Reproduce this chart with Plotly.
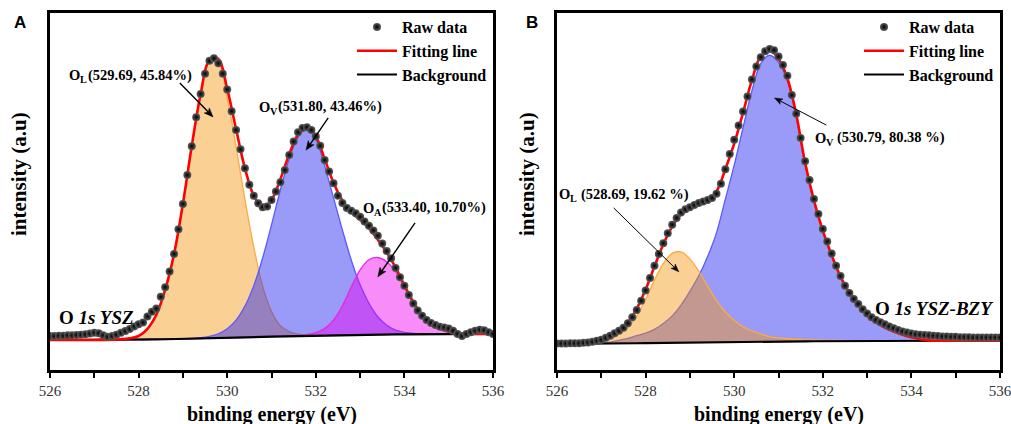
import math
import plotly.graph_objects as go

# ---------------- data ----------------
energy_raw = [526.0, 526.1, 526.2, 526.3, 526.4, 526.5, 526.6, 526.7, 526.8, 526.9,
              527.0, 527.1, 527.2, 527.3, 527.4, 527.5, 527.6, 527.7, 527.8, 527.9,
              528.0, 528.1, 528.2, 528.3, 528.4, 528.5, 528.6, 528.7, 528.8, 528.9,
              529.0, 529.1, 529.2, 529.3, 529.4, 529.5, 529.6, 529.7, 529.8, 529.9,
              530.0, 530.1, 530.2, 530.3, 530.4, 530.5, 530.6, 530.7, 530.8, 530.9,
              531.0, 531.1, 531.2, 531.3, 531.4, 531.5, 531.6, 531.7, 531.8, 531.9,
              532.0, 532.1, 532.2, 532.3, 532.4, 532.5, 532.6, 532.7, 532.8, 532.9,
              533.0, 533.1, 533.2, 533.3, 533.4, 533.5, 533.6, 533.7, 533.8, 533.9,
              534.0, 534.1, 534.2, 534.3, 534.4, 534.5, 534.6, 534.7, 534.8, 534.9,
              535.0, 535.1, 535.2, 535.3, 535.4, 535.5, 535.6, 535.7, 535.8, 535.9,
              536.0]

energy_fit = [526.0, 526.2, 526.4, 526.6, 526.8, 527.0, 527.2, 527.4, 527.6, 527.8,
              528.0, 528.2, 528.4, 528.6, 528.8, 529.0, 529.2, 529.4, 529.6, 529.8,
              530.0, 530.2, 530.4, 530.6, 530.8, 531.0, 531.2, 531.4, 531.6, 531.8,
              532.0, 532.2, 532.4, 532.6, 532.8, 533.0, 533.2, 533.4, 533.6, 533.8,
              534.0, 534.2, 534.4, 534.6, 534.8, 535.0, 535.2, 535.4, 535.6, 535.8,
              536.0]

# Panel A: O 1s YSZ
raw_A = [9.5, 9.5, 9.6, 9.6, 9.7, 9.7, 9.8, 9.9, 10.0, 10.2,
         10.4, 10.3, 9.7, 9.3, 9.5, 9.9, 10.4, 10.9, 11.5, 12.2,
         12.8, 13.3, 15.0, 16.3, 17.2, 20.5, 23.2, 27.6, 32.5, 39.4,
         46.5, 54.6, 62.7, 70.8, 77.3, 83.0, 86.6, 87.3, 85.9, 83.0,
         78.6, 72.5, 67.2, 61.8, 56.5, 51.9, 48.8, 46.7, 45.6, 45.8,
         47.6, 50.0, 52.6, 56.0, 60.2, 64.0, 66.6, 67.8, 68.0, 67.2,
         65.4, 62.8, 58.8, 55.6, 52.3, 48.8, 46.8, 45.4, 44.6, 43.9,
         42.9, 41.6, 40.4, 39.1, 37.6, 35.4, 33.3, 31.3, 28.6, 26.0,
         23.6, 21.0, 18.6, 16.7, 15.2, 14.0, 13.2, 12.6, 12.1, 11.9,
         11.6, 11.0, 10.1, 9.5, 10.1, 10.6, 11.0, 11.3, 11.1, 10.6,
         10.1]

bkg_A = [8.40, 8.40, 8.40, 8.40, 8.40, 8.42, 8.44, 8.46, 8.48, 8.50,
         8.52, 8.55, 8.58, 8.62, 8.66, 8.70, 8.76, 8.82, 8.88, 8.94,
         9.00, 9.07, 9.14, 9.21, 9.28, 9.35, 9.41, 9.47, 9.53, 9.59,
         9.65, 9.69, 9.73, 9.77, 9.81, 9.85, 9.88, 9.91, 9.94, 9.97,
         10.00, 10.02, 10.04, 10.06, 10.08, 10.10, 10.10, 10.10, 10.10, 10.10,
         10.10]

OL_A = [0, 0, 0, 0, 0, 0, 0, 0.05, 0.15, 0.4,
        1.0, 3.0, 6.9, 13.9, 23.8, 37.8, 53.9, 68.2, 77.4, 77.0,
        67.2, 53.5, 38.6, 25.2, 14.2, 7.0, 3.0, 1.3, 0.5, 0.2,
        0.05, 0, 0, 0, 0, 0, 0, 0, 0, 0,
        0, 0, 0, 0, 0, 0, 0, 0, 0, 0,
        0]

OV_A = [0, 0, 0, 0, 0, 0, 0, 0, 0, 0,
        0, 0, 0, 0, 0, 0.03, 0.09, 0.23, 0.55, 1.22,
        2.55, 4.91, 8.76, 14.4, 22.1, 31.3, 41.0, 49.7, 55.8, 58.0,
        55.0, 47.5, 38.5, 29.5, 21.0, 14.0, 8.8, 5.0, 2.6, 1.2,
        0.55, 0.23, 0.09, 0.03, 0, 0, 0, 0, 0, 0,
        0]

OA_A = [0, 0, 0, 0, 0, 0, 0, 0, 0, 0,
        0, 0, 0, 0, 0, 0, 0, 0, 0, 0,
        0, 0, 0, 0, 0, 0, 0, 0, 0.1, 0.3,
        0.8, 1.9, 4.2, 8.2, 13.4, 18.2, 21.0, 21.6, 20.4, 17.6,
        13.2, 8.8, 5.3, 3.0, 1.5, 0.6, 0.2, 0.05, 0, 0,
        0]

# Panel B: O 1s YSZ-BZY
raw_B = [7.4, 7.4, 7.4, 7.5, 7.5, 7.5, 7.6, 7.7, 7.9, 8.2,
         8.5, 9.0, 9.6, 10.3, 11.0, 11.8, 13.1, 14.8, 16.8, 19.4,
         22.3, 25.8, 29.2, 32.5, 35.5, 38.3, 40.7, 42.6, 44.1, 45.0,
         45.6, 46.2, 46.8, 47.2, 47.6, 48.2, 49.4, 52.2, 56.2, 60.5,
         64.5, 68.5, 72.4, 76.6, 81.4, 85.0, 87.6, 89.3, 89.9, 89.6,
         87.8, 85.4, 82.4, 77.0, 71.8, 65.0, 58.5, 53.2, 47.9, 43.7,
         39.5, 36.0, 32.6, 29.2, 26.3, 23.6, 21.6, 19.9, 18.5, 17.0,
         15.8, 14.8, 14.0, 13.4, 12.8, 12.2, 11.7, 11.2, 10.8, 10.5,
         10.2, 10.0, 9.9, 9.8, 9.7, 9.6, 9.5, 9.4, 9.4, 9.3,
         9.3, 9.2, 9.2, 9.2, 9.1, 9.1, 9.1, 9.1, 9.1, 9.1,
         9.1]

bkg_B = [7.30, 7.30, 7.31, 7.32, 7.33, 7.35, 7.38, 7.42, 7.46, 7.50,
         7.54, 7.58, 7.62, 7.66, 7.70, 7.73, 7.76, 7.79, 7.82, 7.85,
         7.88, 7.90, 7.92, 7.94, 7.96, 7.98, 8.00, 8.02, 8.04, 8.06,
         8.08, 8.10, 8.12, 8.14, 8.15, 8.16, 8.17, 8.18, 8.19, 8.20,
         8.20, 8.20, 8.20, 8.20, 8.20, 8.20, 8.20, 8.20, 8.20, 8.20,
         8.20]

OL_B = [0, 0, 0, 0.02, 0.1, 0.4, 1.3, 2.6, 4.4, 7.6,
        12.2, 17.6, 22.2, 25.0, 25.4, 23.4, 19.9, 15.7, 11.6, 8.4,
        6.0, 4.2, 3.0, 2.1, 1.4, 1.0, 0.75, 0.6, 0.45, 0.35,
        0.27, 0.2, 0.15, 0.1, 0.07, 0.05, 0.03, 0.02, 0.01, 0,
        0, 0, 0, 0, 0, 0, 0, 0, 0, 0,
        0]

OV_B = [0, 0, 0, 0.02, 0.08, 0.15, 0.4, 0.9, 1.4, 2.1,
        2.8, 3.8, 5.4, 7.5, 10.5, 14.3, 18.6, 24.0, 30.6, 40.0,
        49.5, 60.0, 70.3, 77.9, 80.2, 78.2, 73.0, 63.0, 49.6, 39.1,
        30.7, 23.9, 17.9, 13.4, 10.2, 7.1, 5.1, 3.7, 2.6, 1.7,
        1.0, 0.4, 0.1, 0, 0, 0, 0, 0, 0, 0,
        0]

x_ticks = [526, 528, 530, 532, 534, 536]

# ---------------- styling ----------------
SERIF = "Liberation Serif, Times New Roman, serif"
ORANGE_FILL = "rgba(245,150,20,0.45)"
ORANGE_LINE = "rgb(255,170,60)"
BLUE_FILL = "rgba(30,30,240,0.45)"
BLUE_LINE = "rgb(90,90,255)"
MAG_FILL = "rgba(240,0,240,0.45)"
MAG_LINE = "rgb(230,40,230)"

X_RANGE = [526, 536]
Y_RANGE = [0, 100]
PANEL_W = 443.0   # px width of each plot area
PANEL_H = 357.0   # px height of each plot area
PXX = PANEL_W / (X_RANGE[1] - X_RANGE[0])
PXY = PANEL_H / (Y_RANGE[1] - Y_RANGE[0])

fig = go.Figure()


def add_component(xa, ya, bkg, comp, fillc, linec, legend):
    fig.add_trace(go.Scatter(x=energy_fit, y=bkg, mode="lines", line=dict(width=0, shape="spline"),
                             showlegend=False, hoverinfo="skip", xaxis=xa, yaxis=ya, legend=legend))
    fig.add_trace(go.Scatter(x=energy_fit, y=[b + c for b, c in zip(bkg, comp)], mode="lines",
                             line=dict(color=linec, width=1.3, shape="spline"),
                             fill="tonexty", fillcolor=fillc, showlegend=False,
                             hoverinfo="skip", xaxis=xa, yaxis=ya, legend=legend))


def add_main(xa, ya, bkg, comps, raw, legend):
    fit = [b + sum(c[i] for c in comps) for i, b in enumerate(bkg)]
    fig.add_trace(go.Scatter(x=energy_fit, y=bkg, mode="lines", name="Background",
                             line=dict(color="black", width=2.2), legend=legend, legendrank=3,
                             xaxis=xa, yaxis=ya))
    fig.add_trace(go.Scatter(x=energy_fit, y=fit, mode="lines", name="Fitting line",
                             line=dict(color="red", width=2.6, shape="spline"), legend=legend,
                             legendrank=2, xaxis=xa, yaxis=ya))
    fig.add_trace(go.Scatter(x=energy_raw, y=raw, mode="markers", name="Raw data",
                             marker=dict(size=8, color="#5e5e5e",
                                         gradient=dict(type="radial", color="#000000"),
                                         line=dict(width=0)),
                             legend=legend, legendrank=1, xaxis=xa, yaxis=ya))


# Panel A
add_component("x", "y", bkg_A, OL_A, ORANGE_FILL, ORANGE_LINE, "legend")
add_component("x", "y", bkg_A, OV_A, BLUE_FILL, BLUE_LINE, "legend")
add_component("x", "y", bkg_A, OA_A, MAG_FILL, MAG_LINE, "legend")
add_main("x", "y", bkg_A, [OL_A, OV_A, OA_A], raw_A, "legend")

# Panel B
add_component("x2", "y2", bkg_B, OV_B, BLUE_FILL, BLUE_LINE, "legend2")
add_component("x2", "y2", bkg_B, OL_B, ORANGE_FILL, ORANGE_LINE, "legend2")
add_main("x2", "y2", bkg_B, [OL_B, OV_B], raw_B, "legend2")


# ---------------- arrows (line + filled head) ----------------
def arrow_shapes(xr, yr, tip, tail, w=1.4, head_len=9.0, head_half=3.6):
    x1, y1 = tip
    x0, y0 = tail
    dxp = (x1 - x0) * PXX
    dyp = (y1 - y0) * PXY
    L = math.hypot(dxp, dyp)
    ux, uy = dxp / L, dyp / L
    bx, by = -ux * head_len, -uy * head_len
    nx, ny = -uy * head_half, ux * head_half
    left = (x1 + (bx + nx) / PXX, y1 + (by + ny) / PXY)
    right = (x1 + (bx - nx) / PXX, y1 + (by - ny) / PXY)
    notch = (x1 + 0.75 * bx / PXX, y1 + 0.75 * by / PXY)
    line = dict(type="line", xref=xr, yref=yr, x0=x0, y0=y0, x1=notch[0], y1=notch[1],
                line=dict(color="black", width=w), layer="above")
    head = dict(type="path", xref=xr, yref=yr, layer="above",
                path=(f"M {x1},{y1} L {left[0]},{left[1]} L {notch[0]},{notch[1]} "
                      f"L {right[0]},{right[1]} Z"),
                fillcolor="black", line=dict(color="black", width=0.5))
    return [line, head]


shapes = []
shapes += arrow_shapes("x", "y", (529.68, 70.9), (528.93, 80.4))
shapes += arrow_shapes("x", "y", (531.78, 61.6), (532.28, 70.6))
shapes += arrow_shapes("x", "y", (533.40, 26.1), (534.24, 41.2))
shapes += arrow_shapes("x2", "y2", (530.91, 76.2), (532.08, 68.6), w=1.0, head_len=8, head_half=3)
shapes += arrow_shapes("x2", "y2", (528.75, 27.5), (527.28, 45.4), w=1.0, head_len=8, head_half=3)

ydom = [54 / 424, 411 / 424]

xaxis_common = dict(range=X_RANGE, tickvals=x_ticks, ticks="outside", ticklen=5, tickwidth=2,
                    tickcolor="black", minor=dict(dtick=1, ticks="outside", ticklen=5, tickwidth=2,
                                                  tickcolor="black", tick0=526),
                    showline=True, linecolor="black", linewidth=2.5, mirror=True,
                    showgrid=False, zeroline=False, automargin=False, ticklabeloverflow="allow",
                    tickfont=dict(family=SERIF, size=15, color="#333333"))
yaxis_common = dict(range=Y_RANGE, showticklabels=False, ticks="", showline=True, linecolor="black",
                    linewidth=2.5, mirror=True, showgrid=False, zeroline=False, automargin=False)

legend_common = dict(font=dict(family=SERIF, size=16, color="black", weight="bold"),
                     bgcolor="rgba(0,0,0,0)", borderwidth=0, xanchor="left", yanchor="top",
                     tracegroupgap=0, traceorder="normal", itemwidth=40)

LBL_SIZE = 14.5
SUB_SIZE = 10.2
ann_font = dict(family=SERIF, size=LBL_SIZE, color="black", weight="bold")
sub_font = dict(family=SERIF, size=SUB_SIZE, color="black", weight="bold")
title_font_x = dict(family=SERIF, size=20, color="black", weight="bold")
title_font_y = dict(family=SERIF, size=21, color="black", weight="bold")

# approximate glyph advance widths (em) of the serif bold face
GLYPH_EM = {"O": 0.778, "L": 0.667, "V": 0.722, "A": 0.722, " ": 0.25}


def peak_label(xr, yr, x, y, sub, rest, space=False):
    """'O' + subscript + rest, written as three adjacent text pieces."""
    o_w = GLYPH_EM["O"] * LBL_SIZE
    s_w = GLYPH_EM[sub] * SUB_SIZE
    gap = GLYPH_EM[" "] * LBL_SIZE if space else 0.5
    common = dict(xref=xr, yref=yr, x=x, y=y, xanchor="left", yanchor="middle", showarrow=False,
                  borderpad=0)
    return [
        dict(text="O", font=ann_font, **common),
        dict(text=sub, font=sub_font, xshift=o_w, yshift=-4.5, **common),
        dict(text=rest, font=ann_font, xshift=o_w + s_w + gap, **common),
    ]


annotations = [
    dict(xref="paper", yref="paper", x=20 / 1011, y=1 - 23 / 424, xanchor="center", yanchor="middle",
         text="A", showarrow=False,
         font=dict(family="Liberation Sans, Arial", size=17, color="black", weight="bold")),
    dict(xref="paper", yref="paper", x=532 / 1011, y=1 - 23 / 424, xanchor="center", yanchor="middle",
         text="B", showarrow=False,
         font=dict(family="Liberation Sans, Arial", size=17, color="black", weight="bold")),
    # axis titles
    dict(xref="paper", yref="paper", x=271.5 / 1011, y=1 - 414 / 424, xanchor="center", yanchor="middle",
         text="binding energy (eV)", showarrow=False, font=title_font_x),
    dict(xref="paper", yref="paper", x=779 / 1011, y=1 - 414 / 424, xanchor="center", yanchor="middle",
         text="binding energy (eV)", showarrow=False, font=title_font_x),
    dict(xref="paper", yref="paper", x=19 / 1011, y=1 - 174 / 424, xanchor="center", yanchor="middle",
         text="intensity (a.u)", textangle=-90, showarrow=False, font=title_font_y),
    dict(xref="paper", yref="paper", x=527 / 1011, y=1 - 174 / 424, xanchor="center", yanchor="middle",
         text="intensity (a.u)", textangle=-90, showarrow=False, font=title_font_y),
    dict(xref="x", yref="y", x=526.16, y=14.6, xanchor="left", showarrow=False,
         text="O <i>1s YSZ</i>", font=dict(family=SERIF, size=19, color="black", weight="bold")),
    dict(xref="x2", yref="y2", x=535.91, y=17.1, xanchor="right", showarrow=False,
         text="O <i>1s YSZ-BZY</i>", font=dict(family=SERIF, size=19, color="black", weight="bold")),
]
annotations += peak_label("x", "y", 526.41, 82.6, "L", "(529.69, 45.84%)")
annotations += peak_label("x", "y", 530.70, 73.7, "V", "(531.80, 43.46%)")
annotations += peak_label("x", "y", 533.04, 45.4, "A", "(533.40, 10.70%)")
annotations += peak_label("x2", "y2", 531.79, 65.0, "V", "(530.79, 80.38 %)", space=True)
annotations += peak_label("x2", "y2", 526.02, 49.3, "L", "(528.69, 19.62 %)", space=True)

fig.update_layout(
    width=1011, height=424, margin=dict(l=0, r=0, t=0, b=0, autoexpand=False),
    paper_bgcolor="white", plot_bgcolor="white",
    xaxis=dict(domain=[50 / 1011, 493 / 1011], anchor="y", **xaxis_common),
    yaxis=dict(domain=ydom, anchor="x", **yaxis_common),
    xaxis2=dict(domain=[557 / 1011, 1000 / 1011], anchor="y2", **xaxis_common),
    yaxis2=dict(domain=ydom, anchor="x2", **yaxis_common),
    legend=dict(x=352 / 1011, y=1 - 10 / 424, **legend_common),
    legend2=dict(x=859 / 1011, y=1 - 10 / 424, **legend_common),
    annotations=annotations,
    shapes=shapes,
    showlegend=True,
)

fig.write_html("out.html", config={"displayModeBar": False})
